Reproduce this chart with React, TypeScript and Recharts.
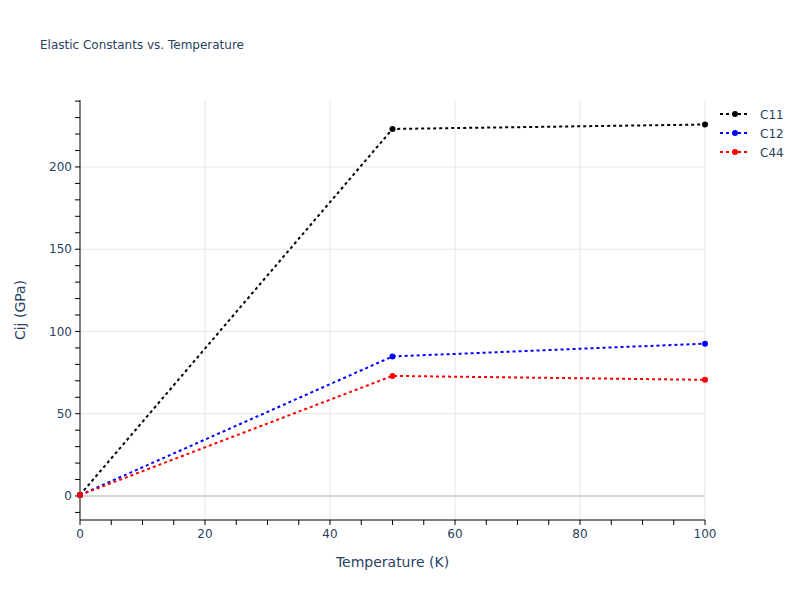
import { LineChart, Line, XAxis, YAxis, ReferenceLine, Legend } from 'recharts';

const temperatures = [0, 50, 100];
const c11 = [0.6, 223.1, 225.8];
const c12 = [0.6, 84.8, 92.6];
const c44 = [0.6, 73.0, 70.6];

const xTicks = [0, 5, 10, 15, 20, 25, 30, 35, 40, 45, 50, 55, 60, 65, 70, 75, 80, 85, 90, 95, 100];
const xLabelled = [0, 20, 40, 60, 80, 100];
const yTicks = [-10, 0, 10, 20, 30, 40, 50, 60, 70, 80, 90, 100, 110, 120, 130, 140, 150, 160, 170, 180, 190, 200, 210, 220, 230, 240];
const yLabelled = [0, 50, 100, 150, 200];

const series = [
  { key: 'C11', color: '#000000' },
  { key: 'C12', color: '#0000ff' },
  { key: 'C44', color: '#ff0000' },
];

const data = temperatures.map((t, i) => ({ t, C11: c11[i], C12: c12[i], C44: c44[i] }));

const FONT = '"DejaVu Sans", verdana, arial, sans-serif';
const TEXT = '#2a3f5f';

function LegendBox() {
  return (
    <svg width={80} height={60}>
      {series.map((s, i) => (
        <g key={s.key} transform={`translate(0, ${i * 19 + 7})`}>
          <line x1={0} x2={30} y1={0} y2={0} stroke={s.color} strokeWidth={2} strokeDasharray="3 3" />
          <circle cx={15} cy={0} r={3} fill={s.color} />
          <text x={40} y={4.5} fontSize={12} fill={TEXT} fontFamily={FONT}>{s.key}</text>
        </g>
      ))}
    </svg>
  );
}

export default function App() {
  return (
    <div style={{ position: 'absolute', left: 0, top: 0, width: 800, height: 600, background: '#fff', fontFamily: FONT }}>
      <div style={{ position: 'absolute', left: 40, top: 38, fontSize: 12, color: TEXT }}>
        Elastic Constants vs. Temperature
      </div>
      <div style={{ position: 'absolute', left: 0, top: 554, width: 785, textAlign: 'center', fontSize: 14, color: TEXT }}>
        Temperature (K)
      </div>
      <div style={{ position: 'absolute', left: 20, top: 310, transform: 'translate(-50%, -50%) rotate(-90deg)', fontSize: 14, color: TEXT, whiteSpace: 'nowrap' }}>
        Cij (GPa)
      </div>
      <LineChart width={800} height={600} data={data} margin={{ top: 100, right: 15, bottom: 50, left: 20 }}>
        {xLabelled.slice(1).map(v => (
          <ReferenceLine key={'gx' + v} x={v} stroke="#e5e5e5" strokeWidth={1} />
        ))}
        {yLabelled.slice(1).map(v => (
          <ReferenceLine key={'gy' + v} y={v} stroke="#e5e5e5" strokeWidth={1} />
        ))}
        <ReferenceLine y={0} stroke="#d6d6d6" strokeWidth={2} />
        <XAxis
          dataKey="t"
          type="number"
          domain={[0, 100]}
          ticks={xTicks}
          interval={0}
          height={30}
          axisLine={{ stroke: '#000', strokeWidth: 1 }}
          tickLine={{ stroke: '#000' }}
          tickSize={5}
          tickMargin={4}
          tickFormatter={(v: number) => (xLabelled.includes(v) ? String(v) : '')}
          tick={{ fontSize: 12, fill: TEXT, fontFamily: FONT }}
        />
        <YAxis
          type="number"
          domain={[-14.6, 240.7]}
          ticks={yTicks}
          interval={0}
          width={60}
          allowDataOverflow
          axisLine={{ stroke: '#000', strokeWidth: 1 }}
          tickLine={{ stroke: '#000' }}
          tickSize={5}
          tickMargin={3}
          tickFormatter={(v: number) => (yLabelled.includes(v) ? String(v) : '')}
          tick={{ fontSize: 12, fill: TEXT, fontFamily: FONT }}
        />
        <Legend
          layout="vertical"
          verticalAlign="top"
          align="right"
          wrapperStyle={{ position: 'absolute', left: 720, top: 107, width: 80 }}
          content={() => <LegendBox />}
        />
        {series.map(s => (
          <Line
            key={s.key}
            dataKey={s.key}
            stroke={s.color}
            strokeWidth={2}
            strokeDasharray="3 3"
            dot={{ r: 3, fill: s.color, stroke: s.color, strokeWidth: 0, strokeDasharray: '' }}
            activeDot={false}
            isAnimationActive={false}
          />
        ))}
      </LineChart>
    </div>
  );
}
